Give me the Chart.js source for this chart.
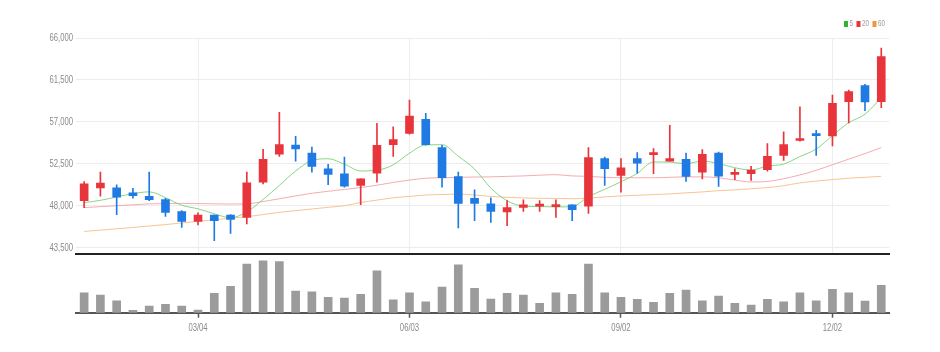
<!DOCTYPE html>
<html><head><meta charset="utf-8">
<script src="https://cdn.jsdelivr.net/npm/chart.js@4.4.0/dist/chart.umd.min.js"></script>
<style>
html,body{margin:0;padding:0;background:#fff;}
#wrap{position:relative;width:940px;height:352px;overflow:hidden;background:#fff;}
#price{position:absolute;left:0;top:0;}
#vol{position:absolute;left:0;top:256px;}
</style></head><body>
<div id="wrap"><canvas id="price" width="940" height="263"></canvas><canvas id="vol" width="940" height="96"></canvas></div>
<script>
const categories = ['01/14','01/21','01/28','02/04','02/11','02/18','02/25','03/04','03/11','03/18','03/25','04/01','04/08','04/15','04/22','04/29','05/06','05/13','05/20','05/27','06/03','06/10','06/17','06/24','07/01','07/08','07/15','07/22','07/29','08/05','08/12','08/19','08/26','09/02','09/09','09/16','09/23','09/30','10/07','10/14','10/21','10/28','11/04','11/11','11/18','11/25','12/02','12/09','12/16','12/23'];
const shownTicks = ['03/04','06/03','09/02','12/02'];
const priceTicks = [43500,48000,52500,57000,61500,66000];

const openP  = [48550,49920,49920,49380,49020,48660,47370,46320,47010,47010,46750,50530,53520,54520,53660,51970,51430,50170,51500,54560,55750,57260,54240,51140,48800,48200,47330,47830,47950,47900,48090,47940,53050,51250,53050,53480,52790,52980,51610,53650,51360,51430,51870,53410,55000,55750,55490,59160,60890,59160];
const closeP = [50350,50420,48910,49090,48660,47290,46320,47010,46390,46530,50460,52980,54560,54090,52220,51360,50090,50890,54490,55100,57620,54560,51000,48260,48260,47400,47800,48090,48010,48060,47580,53160,51970,52080,52580,53700,53050,51140,53520,51170,51500,51820,53300,54560,55210,55530,58990,60240,59130,64010];
const highP  = [50600,51600,50250,49880,51600,48800,47470,47230,47010,47050,51600,54060,58020,55460,54300,52440,53220,50890,56830,56460,59340,57910,54490,51600,49710,48840,48550,48640,48550,48640,48090,54240,53220,53050,53700,54130,56640,53650,54020,53760,51970,52220,54670,55920,58620,56100,59880,60420,61040,64920];
const lowP   = [47800,49020,47040,48800,48550,46860,45670,45930,44240,45020,46040,50350,53300,52790,51600,50250,49990,48120,50530,53300,55670,54490,49990,45610,46400,46210,45860,47400,47400,46750,46400,47180,50170,49450,51500,51430,52790,50600,50890,50060,50790,50710,51710,52870,54920,53410,54410,56890,58190,58510];

const ma5  = [48330,48580,48940,49300,49490,48870,48050,47670,47130,46710,47340,48670,50180,51720,52860,53040,52460,51730,51810,52390,53640,54530,54550,53310,51940,49900,48540,47960,47910,47870,47910,48980,49760,50570,51470,52700,52680,52510,52800,52520,52080,51830,52260,52470,53280,54080,55520,56910,57820,59580];
const ma20 = [47800,47900,48000,48100,48200,48230,48250,48230,48200,48180,48200,48450,48750,49050,49340,49550,49750,49950,50200,50500,50750,50950,51000,51050,51080,51100,51150,51200,51280,51330,51200,51150,51050,51000,51000,51000,51050,51100,51100,51000,50750,50550,50600,50900,51300,51800,52400,53000,53600,54240];
const ma60 = [45240,45380,45520,45670,45820,45980,46150,46330,46500,46650,46820,47050,47290,47470,47650,47830,48000,48350,48600,48850,49000,49150,49200,49250,49150,49000,48900,48830,48800,48780,48750,48820,48950,49050,49120,49200,49270,49380,49480,49620,49700,49820,49950,50150,50450,50650,50800,50950,51050,51160];

const volume = [5000,4420,3000,580,1680,2080,1680,680,4830,6580,12180,13000,12830,5430,5250,3830,3680,4580,10500,3250,5000,2750,6430,12000,6080,3430,4830,4430,2330,5000,4580,12180,5000,3830,3330,2580,4830,5680,3000,4180,2330,1930,3330,2750,5000,3000,5830,5000,2930,6830];

const UP = '#e8353b', DOWN = '#1f7be3';
const FONT = '"Liberation Sans", Arial, sans-serif';
const TEXT = '#8a8a8a';
const SQUEEZE = 0.7;
const candleColors = categories.map((_, i) => closeP[i] >= openP[i] ? UP : DOWN);
const isShown = i => shownTicks.includes(categories[i]);

function narrowText(ctx, str, x, y, size, align, color) {
  ctx.save();
  ctx.font = size + 'px ' + FONT;
  ctx.fillStyle = color;
  ctx.textAlign = align;
  ctx.textBaseline = 'middle';
  ctx.translate(x, y);
  ctx.scale(SQUEEZE, 1);
  ctx.fillText(str, 0, 0);
  ctx.restore();
}

const priceText = {
  id: 'priceText',
  afterDraw(chart) {
    const ctx = chart.ctx, ys = chart.scales.y;
    priceTicks.forEach(v => {
      narrowText(ctx, v.toLocaleString('en-US'), 73, ys.getPixelForValue(v), 11, 'right', TEXT);
    });
    // MA legend
    const items = chart.data.datasets.filter(d => d.maLegend);
    ctx.save();
    ctx.font = '9px ' + FONT;
    let x = 885; const y = 24;
    for (let i = items.length - 1; i >= 0; i--) {
      const d = items[i];
      const w = ctx.measureText(d.label).width * SQUEEZE;
      narrowText(ctx, d.label, x, y, 9, 'right', '#9a9a9a');
      x -= w + 1.5 + 4;
      ctx.fillStyle = d.maLegend;
      ctx.fillRect(x, y - 3, 4, 6);
      x -= 3.5;
    }
    ctx.restore();
  }
};

const volText = {
  id: 'volText',
  afterDraw(chart) {
    const ctx = chart.ctx, xs = chart.scales.x;
    categories.forEach((c, i) => {
      if (isShown(i)) narrowText(ctx, c, xs.getPixelForValue(i), 72, 11, 'center', TEXT);
    });
  }
};

new Chart(document.getElementById('price'), {
  type: 'bar',
  data: {
    labels: categories,
    datasets: [
      { type: 'bar', label: 'body', data: categories.map((_, i) => [openP[i], closeP[i]]),
        backgroundColor: candleColors, barThickness: 8, grouped: false, order: 0, minBarLength: 2 },
      { type: 'bar', label: 'wick', data: categories.map((_, i) => [lowP[i], highP[i]]),
        backgroundColor: candleColors, barThickness: 1, grouped: false, order: 1 },
      { type: 'line', label: '5', data: ma5, borderColor: 'rgba(120,210,120,0.9)', borderWidth: 1,
        pointRadius: 0, cubicInterpolationMode: 'monotone', order: 2, maLegend: '#2db52d' },
      { type: 'line', label: '20', data: ma20, borderColor: 'rgba(242,150,158,0.8)', borderWidth: 1,
        pointRadius: 0, cubicInterpolationMode: 'monotone', order: 3, maLegend: '#e8353b' },
      { type: 'line', label: '60', data: ma60, borderColor: 'rgba(247,190,135,0.9)', borderWidth: 1,
        pointRadius: 0, cubicInterpolationMode: 'monotone', order: 4, maLegend: '#f3963a' }
    ]
  },
  options: {
    responsive: false, animation: false, events: [],
    layout: { padding: { left: 0, right: 50.6, top: 38, bottom: 3 } },
    plugins: { legend: { display: false }, tooltip: { enabled: false } },
    scales: {
      x: {
        offset: true,
        grid: { offset: false, drawTicks: false, lineWidth: 1,
          color: ctx => isShown(ctx.index) ? '#eceff2' : 'rgba(0,0,0,0)' },
        ticks: { display: false, autoSkip: false },
        border: { display: true, color: '#222', width: 2 },
        afterFit: s => { s.height = 0; }
      },
      y: {
        min: 42820, max: 66000,
        afterBuildTicks: s => { s.ticks = priceTicks.map(v => ({ value: v })); },
        afterFit: s => { s.width = 76; },
        ticks: { padding: 3, color: 'rgba(0,0,0,0)', font: { family: FONT, size: 10 },
          callback: v => Number(v).toLocaleString('en-US') },
        grid: { color: '#ececec', drawTicks: false },
        border: { display: false }
      }
    }
  },
  plugins: [priceText]
});

new Chart(document.getElementById('vol'), {
  type: 'bar',
  data: { labels: categories, datasets: [{ data: volume, backgroundColor: '#9b9b9b', barThickness: 8 }] },
  options: {
    responsive: false, animation: false, events: [],
    layout: { padding: { left: 0, right: 50.6, top: 2, bottom: 0 } },
    plugins: { legend: { display: false }, tooltip: { enabled: false } },
    scales: {
      x: {
        grid: { offset: false, drawOnChartArea: false, drawTicks: true, tickLength: 5, tickWidth: 1.5,
          tickColor: ctx => isShown(ctx.index) ? '#555' : 'rgba(0,0,0,0)' },
        ticks: { autoSkip: false, maxRotation: 0, padding: 5, color: 'rgba(0,0,0,0)', font: { family: FONT, size: 10 },
          callback: (v, i) => isShown(i) ? categories[i] : '' },
        border: { display: true, color: '#555', width: 2 },
        afterFit: s => { s.height = 39.3; }
      },
      y: {
        min: 0, max: 13700,
        ticks: { display: false }, grid: { display: false }, border: { display: false },
        afterFit: s => { s.width = 76; }
      }
    }
  },
  plugins: [volText]
});
</script>
</body></html>
